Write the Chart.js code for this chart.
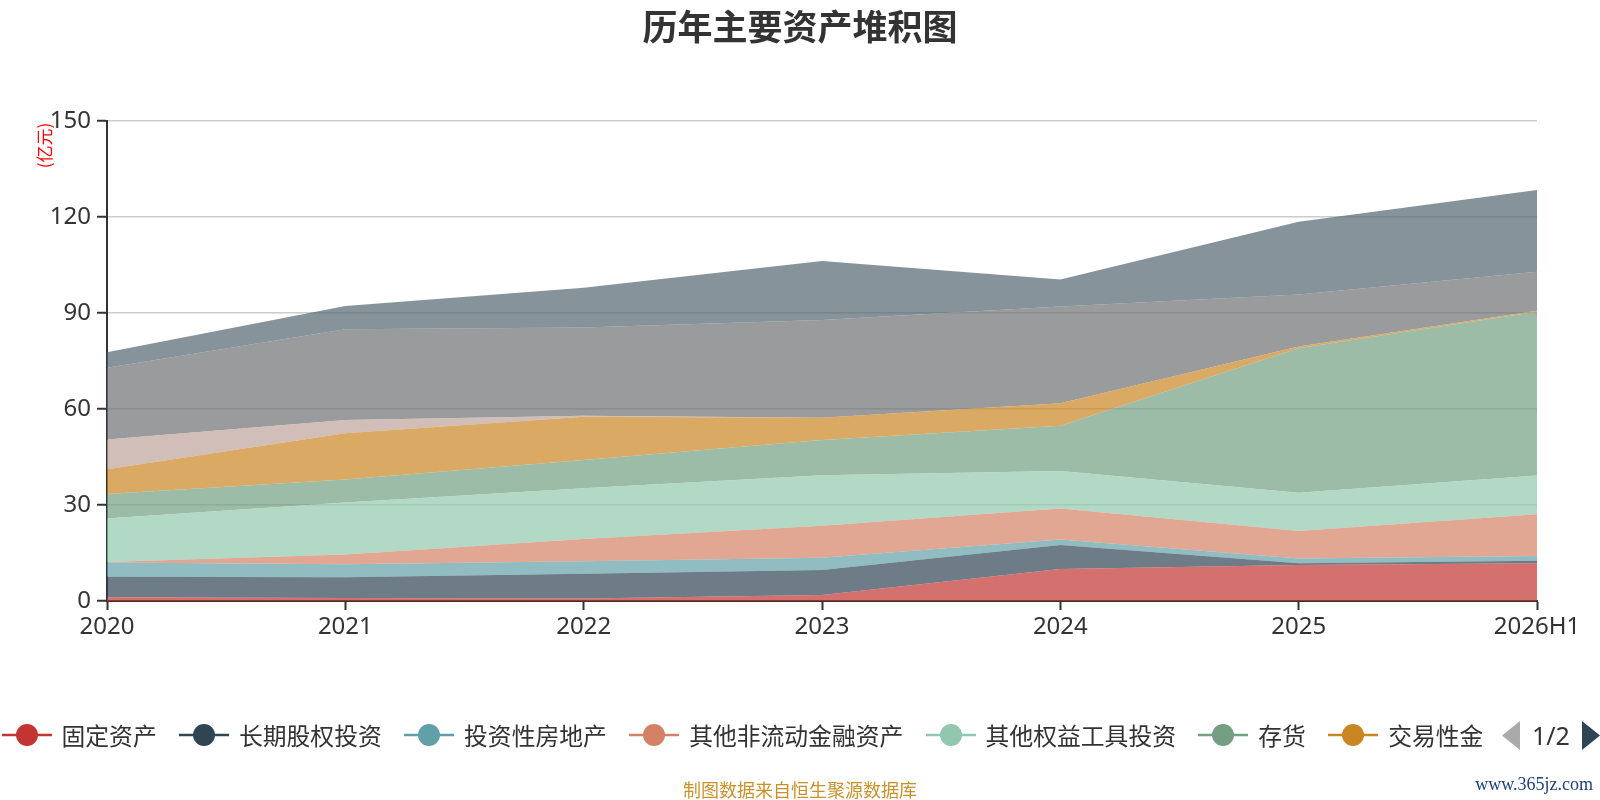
<!DOCTYPE html>
<html>
<head>
<meta charset="utf-8">
<script src="https://cdn.jsdelivr.net/npm/chart.js@4"></script>
<style>
  body { margin: 0; background: #fff; }
  #wrap { position: relative; width: 1600px; height: 800px; overflow: hidden; font-family: "Noto Sans CJK SC", "Noto Sans", sans-serif; }
  #wrap canvas { position: absolute; left: 0; top: 0; }
  #legend { position: absolute; left: 1.5px; top: 720px; width: 1480px; height: 30px; overflow: hidden; white-space: nowrap; display: flex; align-items: center; }
  .item { display: flex; align-items: center; margin-right: 22.3px; flex: none; }
  .item svg { margin-right: 10px; }
  .item span { font-size: 23.8px; color: #333; line-height: 30px; }
  #pager { position: absolute; left: 1502px; top: 720px; height: 30px; display: flex; align-items: center; }
  #pager span { font-family: "Noto Sans", sans-serif; font-size: 25px; color: #333; margin: 0 12px 0 12px; line-height: 30px; }
  #src { position: absolute; left: 0; width: 1600px; top: 777px; text-align: center; font-size: 18px; color: #c8922a; line-height: 24px; }
  #site { position: absolute; right: 7px; top: 772px; font-family: "Liberation Serif", serif; font-size: 18px; color: #1f3f7a; line-height: 24px; }
</style>
</head>
<body>
<div id="wrap">
  <canvas id="chart" width="1600" height="800"></canvas>
  <div id="legend"></div>
  <div id="pager">
    <svg width="18" height="29"><polygon points="18,0 18,29 0,14.5" fill="#aaaaaa"/></svg>
    <span>1/2</span>
    <svg width="18" height="29"><polygon points="0,0 0,29 18,14.5" fill="#2f4554"/></svg>
  </div>
  <div id="src">制图数据来自恒生聚源数据库</div>
  <div id="site">www.365jz.com</div>
</div>
<script>
// 年份
const years = ['2020', '2021', '2022', '2023', '2024', '2025', '2026H1']

// 各项资产 (亿元)
const gudingzichan = [1.2, 0.9, 0.8, 1.9, 10.0, 11.25, 11.8]
const changqiguquan = [6.4, 6.5, 7.7, 7.8, 7.5, 0.55, 0.8]
const touzifangdichan = [4.4, 4.1, 3.9, 3.8, 1.7, 1.5, 1.5]
const qitafeiliudong = [0.2, 3.0, 7.0, 10.0, 9.7, 8.6, 13.0]
const qitaquanyi = [13.6, 16.3, 15.8, 15.8, 11.7, 11.9, 12.1]
const cunhuo = [7.6, 7.2, 8.9, 11.0, 14.2, 45.2, 51.2]
const jiaoyixing = [7.8, 14.4, 13.5, 7.0, 7.0, 0.5, 0.3]
const yingshou = [9.3, 4.2, 0.3, 0, 0, 0, 0]
const huobi = [22.4, 28.3, 27.6, 30.5, 30.2, 16.3, 12.2]
const qita = [4.8, 7.3, 12.4, 18.45, 8.5, 22.7, 25.5]

const names = ['固定资产', '长期股权投资', '投资性房地产', '其他非流动金融资产', '其他权益工具投资', '存货', '交易性金融资产', '应收账款', '货币资金', '其他资产']
const series = [gudingzichan, changqiguquan, touzifangdichan, qitafeiliudong, qitaquanyi, cunhuo, jiaoyixing, yingshou, huobi, qita]
const colores = ['#c23531', '#2f4554', '#61a0a8', '#d48265', '#91c7ae', '#749f83', '#ca8622', '#bda29a', '#6e7074', '#546570']
const yTicks = [0, 30, 60, 90, 120, 150]

function alpha(hex, a) {
    let r = parseInt(hex.substr(1, 2), 16)
    let g = parseInt(hex.substr(3, 2), 16)
    let b = parseInt(hex.substr(5, 2), 16)
    return `rgba(${r},${g},${b},${a})`
}

const datasets = []
for (let i = 0; i < series.length; i++) {
    datasets.push({
        label: names[i],
        data: series[i],
        backgroundColor: alpha(colores[i], 0.7),
        borderColor: alpha(colores[i], 0.7),
        borderWidth: 0,
        pointRadius: 0,
        tension: 0,
        fill: i == 0 ? 'origin' : '-1'
    })
}

// leyenda (solo la primera pagina, como en el original)
const legend = document.getElementById('legend')
for (let i = 0; i < 7; i++) {
    legend.innerHTML += `<div class="item"><svg width="50" height="22"><line x1="0" y1="11" x2="50" y2="11" stroke="${colores[i]}" stroke-width="2.5"/><circle cx="25" cy="11" r="11" fill="${colores[i]}"/></svg><span>${names[i]}</span></div>`
}

const textos = {
    id: 'textos',
    afterDraw(chart) {
        const c = chart.ctx
        c.save()
        c.fillStyle = '#333'
        c.font = 'bold 35px "Noto Sans CJK SC"'
        c.textAlign = 'center'
        c.textBaseline = 'middle'
        c.fillText('历年主要资产堆积图', 800, 27)

        c.translate(44.5, 145.5)
        c.rotate(-Math.PI / 2)
        c.fillStyle = '#ff0000'
        c.font = '17px "Noto Sans CJK SC"'
        c.fillText('(亿元)', 0, 0)
        c.restore()
    }
}

const ctx = document.getElementById('chart')
new Chart(ctx, {
    type: 'line',
    data: { labels: years, datasets: datasets },
    plugins: [textos],
    options: {
        responsive: false,
        animation: false,
        devicePixelRatio: 1,
        layout: { padding: { top: 121, left: 0, right: 63, bottom: 149 } },
        plugins: {
            legend: { display: false },
            title: { display: false },
            tooltip: { enabled: false }
        },
        scales: {
            x: {
                offset: false,
                afterFit: (s) => { s.height = 50 },
                border: { color: '#333', width: 2 },
                grid: { drawOnChartArea: false, drawTicks: true, tickLength: 9, tickColor: '#333', tickWidth: 2 },
                ticks: { color: '#333', font: { family: 'Noto Sans', size: 24 }, padding: 3, maxRotation: 0, autoSkip: false }
            },
            y: {
                stacked: true,
                min: 0,
                max: 150,
                afterFit: (s) => { s.width = 107 },
                afterBuildTicks: (s) => { s.ticks = yTicks.map(v => ({ value: v })) },
                border: { color: '#333', width: 2 },
                grid: { color: '#cccccc', lineWidth: 1.5, tickLength: 10, tickColor: '#333', tickWidth: 2 },
                ticks: { color: '#333', font: { family: 'Noto Sans', size: 24 }, padding: 6 }
            }
        }
    }
})
</script>
</body>
</html>
